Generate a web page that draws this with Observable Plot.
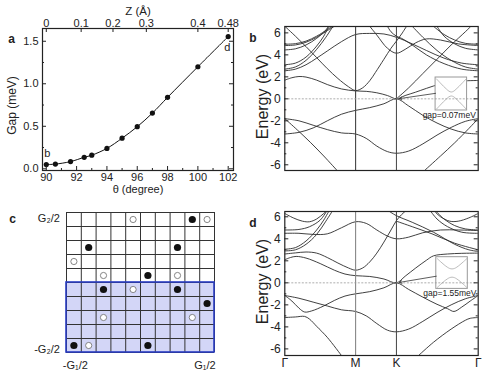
<!DOCTYPE html>
<html><head><meta charset="utf-8">
<script src="https://cdn.jsdelivr.net/npm/d3@7"></script>
<script src="https://cdn.jsdelivr.net/npm/@observablehq/plot@0.6"></script>
<style>
body{margin:0;background:#fff;}
#fig{position:relative;width:485px;height:373px;overflow:hidden;background:#fff;}
</style></head><body><div id="fig"></div>
<script>
const FONT = "'Liberation Sans', Arial, Helvetica, sans-serif";

// ---------- panel a data ----------
const thetaDeg = [90, 90.6, 91.6, 92.5, 93, 94, 95, 96, 97, 98, 100, 102];
const gapMeV   = [0.05, 0.055, 0.085, 0.135, 0.16, 0.24, 0.36, 0.495, 0.655, 0.84, 1.2, 1.555];
const thetaTicks = [90, 92, 94, 96, 98, 100, 102];
const thetaMinorTicks = [91, 93, 95, 97, 99, 101];
const gapTicks = [0, 0.5, 1, 1.5];
const gapMinorTicks = [0.25, 0.75, 1.25];
const zTickLabels = ["0", "0.1", "0.2", "0.3", "0.4", "0.48"];
const zTickAtTheta = [90, 92.3, 94.4, 96.6, 100, 102];
const pointLabels = ["b", "d"];

// ---------- panel c data ----------
const gridLines = [0, 1, 2, 3, 4, 5, 6, 7, 8, 9, 10];
const blueRows = [5, 6, 7, 8, 9];
const filledCol = [8, 1, 7, 5, 2, 7, 9, 0, 5];
const filledRow = [0, 2, 2, 4, 5, 5, 6, 9, 9];
const openCol = [4, 9, 0, 2, 7, 4, 2, 8, 1];
const openRow = [0, 0, 3, 4, 4, 5, 7, 7, 9];

// ---------- panels b, d data ----------
const kPoints = [0, 1, 1.577, 2.732];
const kLabels = ["Γ", "M", "K", "Γ"];
const energyTicks = [-6, -4, -2, 0, 2, 4, 6];
const energyMinorTicks = [-5, -3, -1, 1, 3, 5];
const gapLabels = ["gap=0.07meV", "gap=1.55meV"];

const bandsB = [
  [[0,-1.8],[0.18,-2.85],[0.36,-3.95],[0.55,-5.2],[0.75,-6.6]],
  [[0,-1.8],[0.2,-2.0],[0.4,-2.4],[0.6,-2.8],[0.8,-3.1],[1.0,-3.2],[1.15,-3.6],[1.3,-4.3],[1.45,-4.8],[1.577,-4.95],[1.75,-4.75],[1.95,-4.1],[2.15,-3.3],[2.35,-2.6],[2.55,-2.05],[2.732,-1.8]],
  [[0,-3.2],[0.2,-3.05],[0.4,-2.65],[0.6,-2.0],[0.8,-1.4],[1.0,-1.05],[1.2,-0.8],[1.4,-0.45],[1.577,0],[1.75,-0.65],[1.95,-1.5],[2.15,-2.2],[2.35,-2.75],[2.55,-3.1],[2.732,-3.2]],
  [[2.732,-1.8],[2.6,-2.7],[2.4,-4.0],[2.2,-5.2],[1.96,-6.6]],
  [[0,1.7],[0.1,1.92],[0.2,2.03],[0.3,1.98],[0.45,1.7],[0.6,1.3],[0.8,0.9],[1.0,0.72],[1.15,0.68],[1.3,0.55],[1.45,0.3],[1.577,0],[1.7,0.3],[1.845,0.6],[2.0,0.95],[2.2,1.35],[2.45,1.6],[2.732,1.67]],
  [[0,6.6],[0.15,5.7],[0.3,4.75],[0.45,3.75],[0.6,2.75],[0.75,1.85],[0.9,1.1],[1.0,0.75],[1.1,1.0],[1.2,1.65],[1.28,2.4],[1.4,3.6],[1.5,4.6],[1.577,5.25],[1.65,5.9],[1.72,6.6]],
  [[1.577,0],[1.75,1.0],[1.95,2.3],[2.15,3.6],[2.35,4.9],[2.55,6.1],[2.63,6.6]],
  [[0,2.55],[0.15,2.7],[0.3,3.1],[0.45,3.7],[0.6,4.35],[0.8,5.2],[1.0,5.85],[1.2,5.95],[1.4,5.9],[1.577,5.6],[1.8,5.0],[2.0,4.4],[2.25,3.7],[2.5,3.25],[2.732,3.1]],
  [[0,2.7],[0.15,2.9],[0.3,3.5],[0.45,4.5],[0.58,5.6],[0.68,6.6]],
  [[0,3.1],[0.15,3.25],[0.3,3.8],[0.45,4.8],[0.55,5.7],[0.62,6.6]],
  [[0,4.97],[0.15,5.02],[0.3,5.25],[0.45,5.7],[0.6,6.3],[0.67,6.6]],
  [[0,4.85],[0.15,4.9],[0.3,5.15],[0.45,5.6],[0.6,6.2],[0.7,6.6]],
  [[0,4.45],[0.15,4.55],[0.3,4.9],[0.45,5.5],[0.57,6.2],[0.62,6.6]],
  [[1.2,6.6],[1.3,5.8],[1.45,4.6],[1.577,4.15],[1.7,4.5],[1.85,5.1],[2.0,5.45],[2.2,5.35],[2.45,5.0],[2.732,4.85]],
  [[2.732,4.97],[2.55,5.05],[2.4,5.35],[2.25,5.85],[2.1,6.6]],
  [[2.732,4.45],[2.55,4.6],[2.4,5.0],[2.25,5.7],[2.15,6.6]],
  [[2.732,2.7],[2.55,2.9],[2.35,3.5],[2.15,4.4],[1.95,5.6],[1.8,6.6]],
  [[2.732,2.55],[2.5,2.7],[2.25,3.2],[2.0,4.0],[1.8,4.9],[1.65,5.5],[1.577,5.7],[1.5,6.1],[1.45,6.6]]
];

const bandsD = [
  [[0,-3.15],[0.15,-3.1],[0.28,-3.05],[0.35,-3.3],[0.45,-3.95],[0.6,-4.95],[0.8,-6.6]],
  [[0,-1.15],[0.1,-1.65],[0.2,-2.3],[0.28,-2.65],[0.38,-2.55],[0.55,-2.1],[0.7,-1.6],[0.85,-1.2],[1.0,-1.0],[1.2,-0.8],[1.4,-0.45],[1.577,0],[1.75,-0.6],[1.95,-1.3],[2.15,-1.95],[2.3,-2.35],[2.39,-2.6],[2.5,-2.2],[2.62,-1.65],[2.732,-1.15]],
  [[0,-1.15],[0.2,-1.4],[0.4,-1.75],[0.6,-2.1],[0.8,-2.45],[1.0,-2.6],[1.15,-3.0],[1.3,-3.7],[1.45,-4.3],[1.577,-4.45],[1.75,-4.2],[1.95,-3.5],[2.15,-2.7],[2.35,-2.0],[2.55,-1.45],[2.732,-1.15]],
  [[1.89,-6.6],[2.1,-5.4],[2.35,-4.2],[2.55,-3.4],[2.62,-3.22],[2.732,-3.15]],
  [[0,2.1],[0.08,2.3],[0.16,2.4],[0.3,2.25],[0.5,1.75],[0.7,1.15],[0.85,0.8],[1.0,0.65],[1.2,0.58],[1.4,0.35],[1.577,0],[1.7,0.6],[1.85,1.35],[2.0,2.05],[2.1,2.45],[2.3,2.62],[2.5,2.68],[2.732,2.7]],
  [[0,2.62],[0.15,2.72],[0.3,2.8],[0.45,2.7],[0.6,2.3],[0.75,1.8],[0.9,1.35],[1.0,1.15],[1.1,1.35],[1.2,1.9],[1.3,2.7],[1.4,3.7],[1.5,4.8],[1.577,5.65],[1.65,6.2],[1.72,6.6]],
  [[0,4.5],[0.2,4.5],[0.4,4.4],[0.6,4.45],[0.8,5.0],[1.0,5.55],[1.15,5.4],[1.3,4.8],[1.45,4.25],[1.577,4.0],[1.75,4.15],[1.95,4.55],[2.2,4.8],[2.45,4.8],[2.732,4.75]],
  [[0,3.05],[0.15,3.2],[0.3,3.8],[0.45,4.8],[0.55,5.7],[0.63,6.6]],
  [[0,2.9],[0.15,3.0],[0.3,3.5],[0.45,4.4],[0.58,5.6],[0.68,6.6]],
  [[0,4.8],[0.2,4.85],[0.35,5.1],[0.5,5.7],[0.6,6.6]],
  [[0,6.3],[0.12,5.9],[0.25,5.6],[0.35,5.55],[0.45,5.8],[0.55,6.3],[0.6,6.6]],
  [[1.577,5.6],[1.8,5.1],[2.08,4.45],[2.4,3.6],[2.732,3.0]],
  [[1.45,6.6],[1.577,6.1],[1.8,5.5],[2.1,4.6],[2.4,3.5],[2.6,3.0],[2.732,2.85]],
  [[2.732,4.8],[2.55,4.9],[2.4,5.2],[2.25,5.8],[2.12,6.6]],
  [[2.732,4.5],[2.5,4.6],[2.3,5.1],[2.15,5.8],[2.05,6.6]],
  [[2.732,6.3],[2.6,5.9],[2.45,5.6],[2.33,5.6],[2.2,6.0],[2.1,6.6]]
];

// inset (normalised) curves: upper band, the lower band is its mirror
const insetU = [-0.95, -0.72, -0.5, -0.3, -0.15, 0, 0.15, 0.3, 0.5, 0.72, 0.95];
const insetUpperB = [0.92, 0.69, 0.47, 0.29, 0.17, 0.12, 0.17, 0.29, 0.47, 0.69, 0.92];
const insetUpperD = [0.92, 0.71, 0.52, 0.37, 0.29, 0.26, 0.29, 0.37, 0.52, 0.71, 0.92];

// ---------- helpers ----------
const fig = document.getElementById("fig");
function place(svg, left, top) {
  svg.style.position = "absolute";
  svg.style.left = left + "px";
  svg.style.top = top + "px";
  svg.style.background = "transparent";
  svg.style.overflow = "visible";
  fig.appendChild(svg);
}
function squeeze(svg, label, sx) {
  const g = svg.querySelector(`[aria-label="${label}"]`);
  if (!g) return;
  [g, ...g.querySelectorAll("text")].forEach(el => {
    const tr = el.getAttribute("transform") || "";
    if (/rotate\(\s*-90\s*\)/.test(tr)) {
      el.setAttribute("transform", tr.replace(/rotate\(\s*-90\s*\)/, `scale(${sx},1) rotate(-90)`));
    }
  });
}
const INK = "#222";

// ---------- panel a ----------
{
  const W = 240, H = 200, mL = 42, mR = 7, mT = 28, mB = 30;
  const fw = W - mL - mR, fh = H - mT - mB;
  const pts = thetaDeg.map((t, i) => ({theta: t, gap: gapMeV[i]}));
  const zMap = new Map(zTickAtTheta.map((t, i) => [t, zTickLabels[i]]));
  const svg = Plot.plot({
    width: W, height: H, marginLeft: mL, marginRight: mR, marginTop: mT, marginBottom: mB,
    style: {fontFamily: FONT, fontSize: "11px", color: INK},
    x: {domain: [89.75, 102.35], axis: null},
    y: {domain: [-0.02, 1.65], axis: null},
    marks: [
      Plot.line(pts, {x: "theta", y: "gap", stroke: "#111", strokeWidth: 1, curve: "catmull-rom"}),
      Plot.dot(pts, {x: "theta", y: "gap", r: 2.6, fill: "#111", stroke: "none"}),
      Plot.text([pts[0]], {x: "theta", y: "gap", text: () => pointLabels[0], dx: 1, dy: -11, fontSize: 11, fill: INK}),
      Plot.text([pts[pts.length - 1]], {x: "theta", y: "gap", text: () => pointLabels[1], dx: -1, dy: 11, fontSize: 11, fill: INK}),
      Plot.frame({stroke: INK, strokeWidth: 1.2}),
      Plot.tickX(thetaTicks, {x: d => d, insetTop: fh - 4, stroke: INK}),
      Plot.tickX(thetaMinorTicks, {x: d => d, insetTop: fh - 2, stroke: INK}),
      Plot.tickX(zTickAtTheta, {x: d => d, insetBottom: fh - 4, stroke: INK}),
      Plot.tickY(gapTicks, {y: d => d, insetRight: fw - 4, stroke: INK}),
      Plot.tickY(gapMinorTicks, {y: d => d, insetRight: fw - 2, stroke: INK}),
      Plot.tickY(gapTicks, {y: d => d, insetLeft: fw - 4, stroke: INK}),
      Plot.tickY(gapMinorTicks, {y: d => d, insetLeft: fw - 2, stroke: INK}),
      Plot.axisX(thetaTicks, {anchor: "bottom", tickSize: 0, tickPadding: 3, tickFormat: d => String(d), label: null, fontSize: 11}),
      Plot.axisX(zTickAtTheta, {anchor: "top", tickSize: 0, tickPadding: 2, tickFormat: d => zMap.get(d), label: null, fontSize: 11}),
      Plot.axisY(gapTicks, {anchor: "left", tickSize: 0, tickPadding: 4, tickFormat: d => d.toFixed(1), label: null, fontSize: 11}),
      Plot.text(["Gap (meV)"], {frameAnchor: "left", textAnchor: "middle", dx: -30, dy: 6, rotate: -90, fontSize: 12, fill: INK}),
      Plot.text(["θ (degree)"], {frameAnchor: "bottom", textAnchor: "middle", dy: 22, fontSize: 11, fill: INK}),
      Plot.text(["Z (Å)"], {frameAnchor: "top", textAnchor: "middle", dy: -21.5, fontSize: 11.5, fill: INK}),
      Plot.text(["a"], {frameAnchor: "top-left", textAnchor: "middle", dx: -31, dy: 6, fontSize: 12, fontWeight: "bold", fill: INK})
    ]
  });
  place(svg, 0, 0);
}

// ---------- panel c ----------
{
  const W = 240, H = 173, mL = 66, mR = 26, mT = 12, mB = 21;
  const filled = filledCol.map((c, i) => ({c, r: filledRow[i]}));
  const open = openCol.map((c, i) => ({c, r: openRow[i]}));
  const svg = Plot.plot({
    width: W, height: H, marginLeft: mL, marginRight: mR, marginTop: mT, marginBottom: mB,
    style: {fontFamily: FONT, fontSize: "11px", color: INK},
    x: {domain: [0, 10], axis: null},
    y: {domain: [0, 10], reverse: true, axis: null},
    marks: [
      Plot.rect(blueRows, {x1: 0, x2: 10, y1: d => d, y2: d => d + 1, fill: "#d3d6f7"}),
      Plot.ruleX(gridLines, {x: d => d, stroke: "#333", strokeWidth: 1}),
      Plot.ruleY(gridLines, {y: d => d, stroke: "#333", strokeWidth: 1}),
      Plot.rect([blueRows], {x1: 0, x2: 10, y1: d => d[0], y2: d => d[d.length - 1] + 1, fill: "none", stroke: "#2a3cc4", strokeWidth: 1.6}),
      Plot.dot(open, {x: d => d.c + 0.5, y: d => d.r + 0.5, r: 3.1, fill: "white", stroke: "#777", strokeWidth: 0.9}),
      Plot.dot(filled, {x: d => d.c + 0.5, y: d => d.r + 0.5, r: 3.6, fill: "#111", stroke: "none"}),
      Plot.text(["G₂/2"], {x: -0.45, y: 0.45, textAnchor: "end", fontSize: 11, fill: INK}),
      Plot.text(["-G₂/2"], {x: -0.45, y: 9.75, textAnchor: "end", fontSize: 11, fill: INK}),
      Plot.text(["-G₁/2"], {x: 0.6, y: 10.95, fontSize: 11, fill: INK}),
      Plot.text(["G₁/2"], {x: 9.35, y: 10.95, fontSize: 11, fill: INK}),
      Plot.text(["c"], {x: -3.65, y: 0.45, fontSize: 12, fontWeight: "bold", fill: INK})
    ]
  });
  place(svg, 0, 200);
}

// ---------- band-structure panels ----------
function bandPanel(bands, opts) {
  const W = 245, mL = 44.3, mR = 7.3, mT = 26;
  const {H, mB, yDomain, box, upper, arrow, label, letter, showK, mColor} = opts;
  const fw = W - mL - mR, fh = H - mT - mB;
  const recs = bands.flatMap((b, i) => b.map(([k, E]) => ({b: i, k, E})));
  const yc = (box.E1 + box.E2) / 2, hh = (box.E2 - box.E1) / 2;
  const inset = [];
  insetU.forEach((u, j) => {
    const k = box.k1 + (u + 1) / 2 * (box.k2 - box.k1);
    inset.push({s: "u", k, E: yc + upper[j] * hh});
    inset.push({s: "l", k, E: yc - upper[j] * hh});
  });
  const kMap = new Map(kPoints.map((k, i) => [k, kLabels[i]]));
  const marks = [
    Plot.line(recs, {x: "k", y: "E", z: "b", curve: "catmull-rom", stroke: "#2b2b2b", strokeWidth: 0.9, clip: true}),
    Plot.ruleX([kPoints[1]], {x: d => d, stroke: mColor, strokeWidth: 1.1}),
    Plot.ruleX([kPoints[2]], {x: d => d, stroke: "#444", strokeWidth: 1}),
    Plot.rect([box], {x1: "k1", x2: "k2", y1: "E1", y2: "E2", fill: "white", stroke: "#999", strokeWidth: 1}),
    Plot.line(inset, {x: "k", y: "E", z: "s", curve: "catmull-rom", stroke: "#aaa", strokeWidth: 0.8}),
    Plot.ruleY([0], {y: d => d, stroke: "#999", strokeWidth: 0.8, strokeDasharray: "2,1.5"}),
    Plot.arrow([arrow], {x1: "k1", y1: "E1", x2: "k2", y2: "E2", stroke: "#333", strokeWidth: 0.8, headLength: 5}),
    Plot.text([label], {x: (box.k1 + box.k2) / 2 - 0.03, y: box.E1, lineAnchor: "top", dy: 1, fontSize: 8.5, fill: INK}),
    Plot.frame({stroke: INK, strokeWidth: 1.2}),
    Plot.tickY(energyTicks, {y: d => d, insetRight: fw - 4, stroke: INK}),
    Plot.tickY(energyMinorTicks, {y: d => d, insetRight: fw - 2, stroke: INK}),
    Plot.tickY(energyTicks, {y: d => d, insetLeft: fw - 4, stroke: INK}),
    Plot.tickY(energyMinorTicks, {y: d => d, insetLeft: fw - 2, stroke: INK}),
    Plot.axisY(energyTicks, {anchor: "left", tickSize: 0, tickPadding: 4, tickFormat: d => String(d), label: null, fontSize: 12}),
    Plot.text(["Energy (eV)"], {frameAnchor: "left", textAnchor: "middle", dx: -22, dy: -2, rotate: -90, fontSize: 16, fill: INK, ariaLabel: "energy-label"}),
    Plot.text([letter], {frameAnchor: "top-left", textAnchor: "middle", dx: -32, dy: 7, fontSize: 12, fontWeight: "bold", fill: INK})
  ];
  if (showK) marks.push(Plot.axisX(kPoints, {anchor: "bottom", tickSize: 0, tickPadding: 3, tickFormat: k => kMap.get(k), label: null, fontSize: 12}));
  const svg = Plot.plot({
    width: W, height: H, marginLeft: mL, marginRight: mR, marginTop: mT, marginBottom: mB,
    style: {fontFamily: FONT, fontSize: "11px", color: INK},
    x: {domain: [0, 2.732], axis: null},
    y: {domain: yDomain, axis: null},
    marks
  });
  squeeze(svg, "energy-label", 0.75);
  return svg;
}

place(bandPanel(bandsB, {
  H: 185, mB: 15, yDomain: [-6.52, 6.58],
  box: {k1: 2.13, k2: 2.575, E1: -1.06, E2: 1.94},
  upper: insetUpperB,
  arrow: {k1: 2.13, E1: 0.5, k2: 1.62, E2: 0.02},
  label: gapLabels[0], letter: "b", showK: false, mColor: "#444"
}), 240, 0);

place(bandPanel(bandsD, {
  H: 188, mB: 18, yDomain: [-6.6, 6.48],
  box: {k1: 2.14, k2: 2.585, E1: -0.55, E2: 2.33},
  upper: insetUpperD,
  arrow: {k1: 2.14, E1: 0.6, k2: 1.62, E2: 0.04},
  label: gapLabels[1], letter: "d", showK: true, mColor: "#888"
}), 240, 185);
</script></body></html>
